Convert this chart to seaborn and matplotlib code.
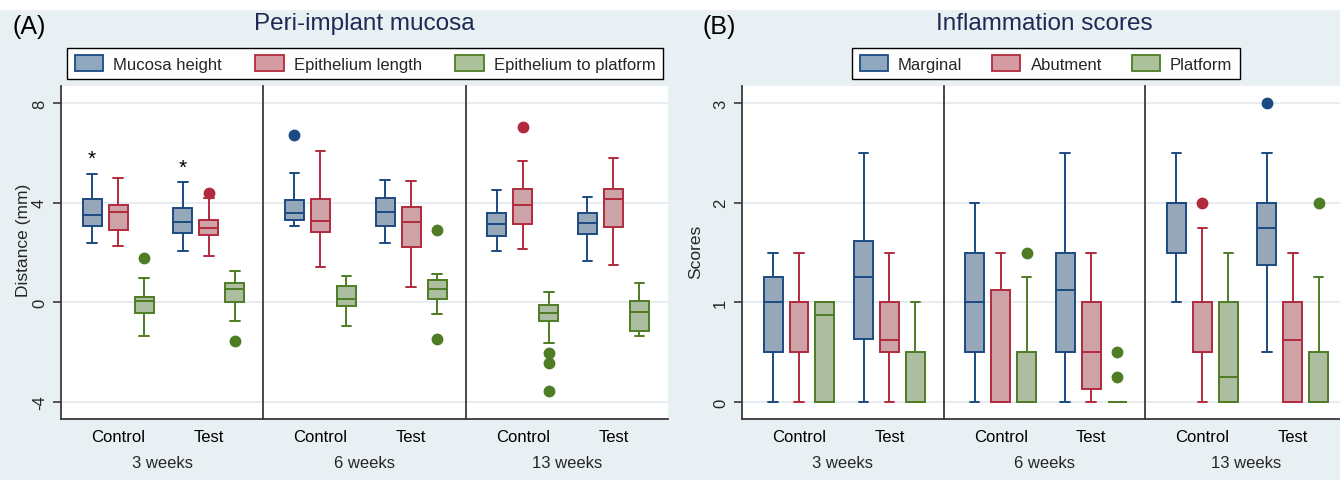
import numpy as np
import pandas as pd
import matplotlib
matplotlib.use("Agg")
import matplotlib.pyplot as plt
import seaborn as sns
from matplotlib.patches import Patch, Rectangle

sns.set_theme(style="white")
plt.rcParams["font.family"] = ["Liberation Sans", "DejaVu Sans"]
plt.rcParams["axes.unicode_minus"] = False

# ---------------------------------------------------------------- data
weeks = ["3 weeks", "6 weeks", "13 weeks"]
groups = ["Control", "Test"]

# five-number summaries: (lower whisker, Q1, median, Q3, upper whisker)
# order: 3w Control, 3w Test, 6w Control, 6w Test, 13w Control, 13w Test
mucosa_measures = ["Mucosa height", "Epithelium length", "Epithelium to platform"]
mucosa_height = [(2.39, 3.08, 3.51, 4.16, 5.15), (2.07, 2.79, 3.23, 3.80, 4.81),
                 (3.05, 3.32, 3.59, 4.10, 5.20), (2.39, 3.07, 3.64, 4.20, 4.92),
                 (2.07, 2.67, 3.13, 3.59, 4.49), (1.65, 2.76, 3.19, 3.57, 4.23)]
mucosa_height_out = [[], [], [6.72], [], [], []]
epith_length = [(2.28, 2.91, 3.63, 3.89, 4.99), (1.85, 2.72, 2.97, 3.32, 4.20),
                (1.41, 2.81, 3.25, 4.15, 6.07), (0.60, 2.21, 3.21, 3.84, 4.88),
                (2.13, 3.13, 3.89, 4.53, 5.68), (1.49, 3.04, 4.13, 4.56, 5.80)]
epith_length_out = [[], [4.38], [], [], [7.05], []]
epith_platform = [(-1.37, -0.42, 0.05, 0.23, 0.99), (-0.73, 0.00, 0.52, 0.77, 1.24),
                  (-0.95, -0.15, 0.15, 0.65, 1.07), (-0.48, 0.12, 0.55, 0.89, 1.12),
                  (-1.64, -0.73, -0.41, -0.10, 0.40), (-1.36, -1.13, -0.39, 0.04, 0.77)]
epith_platform_out = [[1.76], [-1.57], [], [-1.48, 2.92], [-3.55, -2.44, -2.05], []]
star_values = [5.78, 5.42]  # asterisks above Mucosa height, 3 weeks

infl_measures = ["Marginal", "Abutment", "Platform"]
marginal = [(0, 0.50, 1.00, 1.25, 1.5), (0, 0.63, 1.25, 1.62, 2.5),
            (0, 0.50, 1.00, 1.50, 2.0), (0, 0.50, 1.12, 1.50, 2.5),
            (1.0, 1.50, 2.00, 2.00, 2.5), (0.5, 1.375, 1.75, 2.00, 2.5)]
marginal_out = [[], [], [], [], [], [3.0]]
abutment = [(0, 0.50, 1.00, 1.00, 1.5), (0, 0.50, 0.62, 1.00, 1.5),
            (0, 0.00, 0.00, 1.12, 1.5), (0, 0.13, 0.50, 1.00, 1.5),
            (0, 0.50, 0.50, 1.00, 1.75), (0, 0.00, 0.62, 1.00, 1.5)]
abutment_out = [[], [], [], [], [2.0], []]
platform = [(0, 0, 0.87, 1.0, 1.0), (0, 0, 0, 0.5, 1.0),
            (0, 0, 0, 0.5, 1.25), (0, 0, 0, 0, 0),
            (0, 0, 0.25, 1.0, 1.5), (0, 0, 0, 0.5, 1.25)]
platform_out = [[], [], [1.5], [0.25, 0.5], [], [2.0]]

fills = ["#90a7c0", "#d49ca2", "#adc29b"]
darks = ["#1b4a82", "#b22a3d", "#4e7d25"]


def expand(summary, outliers):
    """17-point sample whose quartiles/whiskers equal the summary."""
    lo, q1, med, q3, hi = summary
    low_out = sorted(v for v in outliers if v < q1)
    high_out = sorted(v for v in outliers if v > q3)
    lows = low_out + [lo] * (4 - len(low_out))
    highs = [hi] * (4 - len(high_out)) + high_out
    return lows + [q1] * 4 + [med] * 4 + [q3] + highs


def build_frame(measures, summaries, outliers):
    rows = []
    for m, summ, outl in zip(measures, summaries, outliers):
        for k, (s, o) in enumerate(zip(summ, outl)):
            for v in expand(s, o):
                rows.append((weeks[k // 2], groups[k % 2], m, v))
    return pd.DataFrame(rows, columns=["week", "group", "measure", "value"])


mucosa_df = build_frame(mucosa_measures, [mucosa_height, epith_length, epith_platform],
                        [mucosa_height_out, epith_length_out, epith_platform_out])
infl_df = build_frame(infl_measures, [marginal, abutment, platform],
                      [marginal_out, abutment_out, platform_out])

# ---------------------------------------------------------------- figure
W, H = 1340, 481
fig = plt.figure(figsize=(W / 100, H / 100), dpi=100)
fig.patch.set_facecolor("white")
BG = "#e9f0f3"
fig.add_artist(Rectangle((0, 0), 1, 1 - 11 / H, transform=fig.transFigure,
                         facecolor=BG, edgecolor="none", zorder=-10))

BOX_W = 0.86
AXC = "#3a3a3a"
PLOT_TOP, PLOT_BOT = 87, 420


def fx(px):
    return px / W


def fy(py):
    return 1 - py / H


def draw_panel(df, measures, x0, fw, ylim, yticks, ylabel, ylabel_y, title,
               letter, letter_x, leg_x0, leg_x1, stars=None):
    pal = dict(zip(measures, fills))
    axes = []
    for i, wk in enumerate(weeks):
        ax = fig.add_axes([fx(x0 + i * fw), fy(PLOT_BOT), fw / W, (PLOT_BOT - PLOT_TOP) / H])
        ax.set_facecolor("white")
        sub = df[df["week"] == wk]
        for m, dk in zip(measures, darks):
            sns.boxplot(data=sub[sub["measure"] == m], x="group", y="value", hue="measure",
                        hue_order=measures, order=groups, palette=pal, linecolor=dk,
                        linewidth=1.4, width=BOX_W, gap=0.27, dodge=True, whis=1.5,
                        flierprops={"marker": "o", "markerfacecolor": dk,
                                    "markeredgecolor": dk, "markersize": 7.5},
                        legend=False, ax=ax)
        ax.set_xlim(-0.63, 1.60)
        ax.set_ylim(*ylim)
        ax.set_yticks(yticks)
        ax.yaxis.grid(True, color="#e4ebef", lw=1.3)
        ax.set_axisbelow(True)
        ax.set_xlabel("")
        ax.set_ylabel("")
        for s in ["top", "right"]:
            ax.spines[s].set_visible(False)
        for s in ["left", "bottom"]:
            ax.spines[s].set_color(AXC)
            ax.spines[s].set_linewidth(1.3)
        ax.tick_params(axis="x", length=0, pad=7, labelsize=12, labelcolor="black")
        if i == 0:
            ax.tick_params(axis="y", length=6, width=1.2, color=AXC, pad=4,
                           labelsize=12, labelrotation=90, left=True)
            for t in ax.get_yticklabels():
                t.set_va("center")
            ax.set_ylabel(ylabel, fontsize=12.5)
            ax.yaxis.set_label_coords(-0.15 if ylabel != "Scores" else -0.19, ylabel_y)
        else:
            ax.tick_params(axis="y", length=0, labelleft=False)
        ax.text(0.5, -0.13, wk, transform=ax.transAxes, ha="center", va="center",
                fontsize=12)
        axes.append(ax)
    if stars is not None:
        for gi, v in enumerate(stars):
            axes[0].text(gi - BOX_W / 3, v, "*", ha="center", va="center",
                         fontsize=15, color="black")
    cx = x0 + 1.5 * fw
    fig.text(fx(cx), fy(24), title, ha="center", va="center", fontsize=17.5,
             color="#1c2a55")
    fig.text(fx(letter_x), fy(27), letter, ha="left", va="center", fontsize=18,
             color="black")
    handles = [Patch(facecolor=f, edgecolor=d, lw=1.3) for f, d in zip(fills, darks)]
    fig.legend(handles, measures, loc="center", ncol=3, mode="expand",
               bbox_to_anchor=(fx(leg_x0), fy(80), (leg_x1 - leg_x0) / W, 31 / H),
               fontsize=12, frameon=True, fancybox=False, edgecolor="black",
               facecolor="white", framealpha=1, handlelength=1.7, handleheight=1.1,
               handletextpad=0.6, borderpad=0.45, borderaxespad=0)
    return axes


draw_panel(mucosa_df, mucosa_measures, 61, 202.3, (-4.68, 8.68), [-4, 0, 4, 8],
           "Distance (mm)", 0.54, "Peri-implant mucosa", "(A)", 12, 67, 663,
           stars=star_values)
draw_panel(infl_df, infl_measures, 742, 201.7, (-0.17, 3.17), [0, 1, 2, 3],
           "Scores", 0.505, "Inflammation scores", "(B)", 703, 852, 1240)

fig.savefig("out.png", dpi=100, facecolor=fig.get_facecolor())
